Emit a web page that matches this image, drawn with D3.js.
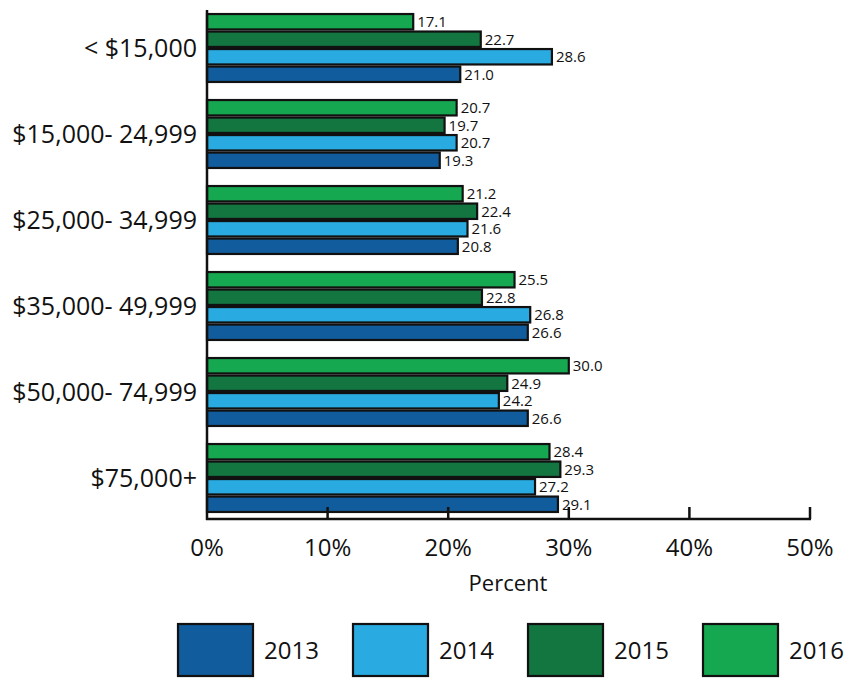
<!DOCTYPE html>
<html>
<head>
<meta charset="utf-8">
<script src="https://cdn.jsdelivr.net/npm/d3@7"></script>
<style>
  body { margin: 0; background: #fff; }
  svg { font-family: "Open Sans", "Noto Sans", sans-serif; }
</style>
</head>
<body>
<div id="chart"></div>
<script>
var WIDTH = 849;
var HEIGHT = 680;

var categories = ['< $15,000', '$15,000- 24,999', '$25,000- 34,999', '$35,000- 49,999', '$50,000- 74,999', '$75,000+'];
var years = ['2013', '2014', '2015', '2016'];
var v2013 = [21.0, 19.3, 20.8, 26.6, 26.6, 29.1];
var v2014 = [28.6, 20.7, 21.6, 26.8, 24.2, 27.2];
var v2015 = [22.7, 19.7, 22.4, 22.8, 24.9, 29.3];
var v2016 = [17.1, 20.7, 21.2, 25.5, 30.0, 28.4];
var xTicks = [0, 10, 20, 30, 40, 50];

var colours = new Map([
    ['2013', '#115c9c'],
    ['2014', '#29abe2'],
    ['2015', '#137540'],
    ['2016', '#16a751'],
]);

var series = { '2013': v2013, '2014': v2014, '2015': v2015, '2016': v2016 };

var rows = [];
categories.forEach(function(c, i) {
    years.forEach(function(y) {
        rows.push({ cat: c, year: y, value: series[y][i] });
    });
});

var svg = d3.select('#chart').append('svg')
    .attr('width', WIDTH)
    .attr('height', HEIGHT);

var x = d3.scaleLinear().domain([0, 50]).range([207, 810]);

// groups of four bars, 2016 on top
var y0 = d3.scaleBand().domain(categories).range([5, 521])
    .paddingInner(0.21).paddingOuter(0.105);
var y1 = d3.scaleBand().domain(years.slice().reverse()).range([0, y0.bandwidth()])
    .paddingInner(0.12);

var AXIS_Y = 519;

svg.append('g').selectAll('rect')
    .data(rows)
    .enter().append('rect')
    .attr('x', x(0))
    .attr('y', (d) => y0(d.cat) + y1(d.year))
    .attr('width', (d) => x(d.value) - x(0))
    .attr('height', y1.bandwidth())
    .attr('fill', (d) => colours.get(d.year))
    .attr('stroke', '#111')
    .attr('stroke-width', 2.2);

svg.append('g').selectAll('text')
    .data(rows)
    .enter().append('text')
    .attr('x', (d) => x(d.value) + 4)
    .attr('y', (d) => y0(d.cat) + y1(d.year) + y1.bandwidth() / 2)
    .attr('dy', '0.36em')
    .attr('font-size', 15)
    .attr('fill', '#111')
    .attr('stroke', '#fff')
    .attr('stroke-width', 3)
    .attr('paint-order', 'stroke')
    .text((d) => d.value.toFixed(1));

// category labels
svg.append('g').selectAll('text')
    .data(categories)
    .enter().append('text')
    .attr('x', 197)
    .attr('y', (d) => y0(d) + y0.bandwidth() / 2)
    .attr('dy', '0.36em')
    .attr('text-anchor', 'end')
    .attr('font-size', 25)
    .attr('fill', '#111')
    .text((d) => d);

// axes lines
svg.append('line')
    .attr('x1', x(0)).attr('x2', x(0))
    .attr('y1', 10).attr('y2', AXIS_Y + 1)
    .attr('stroke', '#111').attr('stroke-width', 2.5);
svg.append('line')
    .attr('x1', x(0) - 1).attr('x2', x(50) + 1)
    .attr('y1', AXIS_Y).attr('y2', AXIS_Y)
    .attr('stroke', '#111').attr('stroke-width', 2.5);

svg.append('g').selectAll('line')
    .data(xTicks.slice(1))
    .enter().append('line')
    .attr('x1', (d) => x(d)).attr('x2', (d) => x(d))
    .attr('y1', AXIS_Y - 12).attr('y2', AXIS_Y)
    .attr('stroke', '#111').attr('stroke-width', 2.5);

svg.append('g').selectAll('text')
    .data(xTicks)
    .enter().append('text')
    .attr('x', (d) => x(d))
    .attr('y', 556)
    .attr('text-anchor', 'middle')
    .attr('font-size', 24)
    .attr('fill', '#111')
    .text((d) => d + '%');

svg.append('text')
    .attr('x', 508)
    .attr('y', 591)
    .attr('text-anchor', 'middle')
    .attr('font-size', 22)
    .attr('fill', '#111')
    .text('Percent');

// legend
var legX = d3.scalePoint().domain(years).range([178, 703]);
var leg = svg.append('g').selectAll('g')
    .data(years)
    .enter().append('g')
    .attr('transform', (d) => 'translate(' + legX(d) + ',624)');
leg.append('rect')
    .attr('width', 75)
    .attr('height', 52)
    .attr('fill', (d) => colours.get(d))
    .attr('stroke', '#111')
    .attr('stroke-width', 2.2);
leg.append('text')
    .attr('x', 86)
    .attr('y', 26)
    .attr('dy', '0.36em')
    .attr('font-size', 24)
    .attr('fill', '#111')
    .text((d) => d);
</script>
</body>
</html>
